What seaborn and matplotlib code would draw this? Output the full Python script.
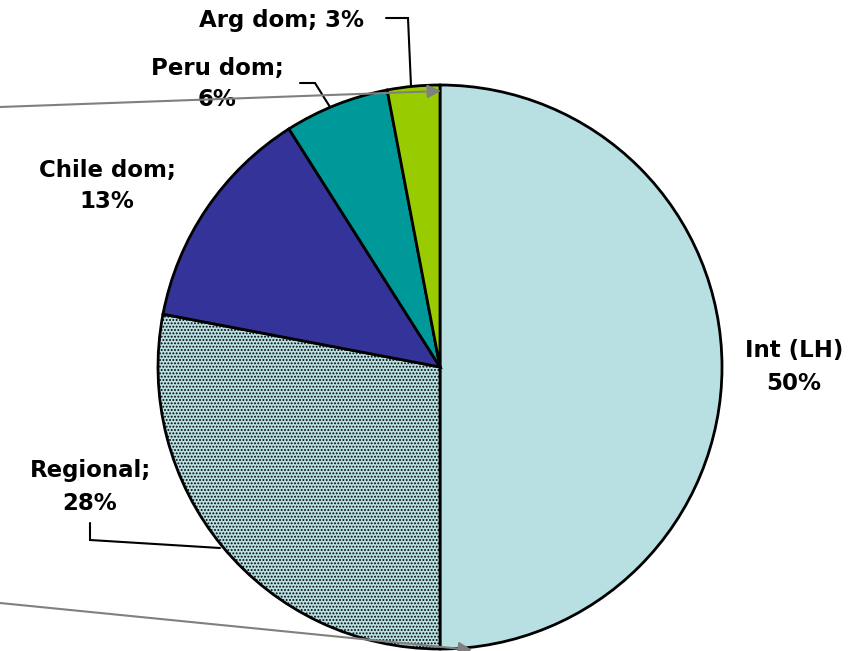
import matplotlib
matplotlib.use('Agg')
import matplotlib.pyplot as plt
import seaborn as sns

# Share of traffic by segment
segments = ['Int (LH)', 'Regional', 'Chile dom', 'Peru dom', 'Arg dom']
shares = [50, 28, 13, 6, 3]
label_texts = ['Int (LH)\n50%', 'Regional;\n28%', 'Chile dom;\n13%', 'Peru dom;\n6%', 'Arg dom; 3%']
colors = ['#B8DFE2', '#B8DFE2', '#333399', '#009999', '#99CC00']

sns.set_theme(style='white')
plt.rcParams['font.family'] = ['DejaVu Sans']
plt.rcParams['hatch.linewidth'] = 0.9

W, H = 855, 651
CX, CY, R = 440, 367, 282


def px(x, y):
    # pixel position (from top-left) -> data coords of the pie
    return (x - CX) / R, (CY - y) / R


fig = plt.figure(figsize=(W / 100, H / 100), dpi=100)
ax = fig.add_axes([0, 0, 1, 1])

wedges, _ = ax.pie(shares, colors=colors, startangle=90, counterclock=False,
                   radius=1.0, wedgeprops=dict(edgecolor='black', linewidth=2))
wedges[1].set_hatch('.....')

# pie() resets the limits, so set them afterwards
ax.set_aspect('auto')
ax.set_xlim(-CX / R, (W - CX) / R)
ax.set_ylim(-(H - CY) / R, CY / R)
ax.axis('off')

# data labels
pos = [(794, 367), (90, 487), (107, 186), (217, 84), (281, 21)]
for txt, (x, y) in zip(label_texts, pos):
    ax.text(*px(x, y), txt, ha='center', va='center', fontsize=16.5,
            fontweight='bold', color='black', linespacing=1.5)

# leader lines
leaders = [
    [(386, 18), (408, 18), (411, 86)],
    [(300, 83), (315, 83), (330, 107)],
    [(90, 523), (90, 540), (220, 548)],
]
for pts in leaders:
    xs, ys = zip(*[px(x, y) for x, y in pts])
    ax.plot(xs, ys, color='black', lw=1.5, solid_joinstyle='miter')

# gray connector arrows
for start, end in [((0, 107), (441, 91)), ((0, 603), (472, 650))]:
    ax.annotate('', xy=px(*end), xytext=px(*start),
                arrowprops=dict(arrowstyle='-|>', color='#808080', lw=1.5,
                                mutation_scale=20, shrinkA=0, shrinkB=0),
                annotation_clip=False)

fig.savefig('out.png', dpi=100)
